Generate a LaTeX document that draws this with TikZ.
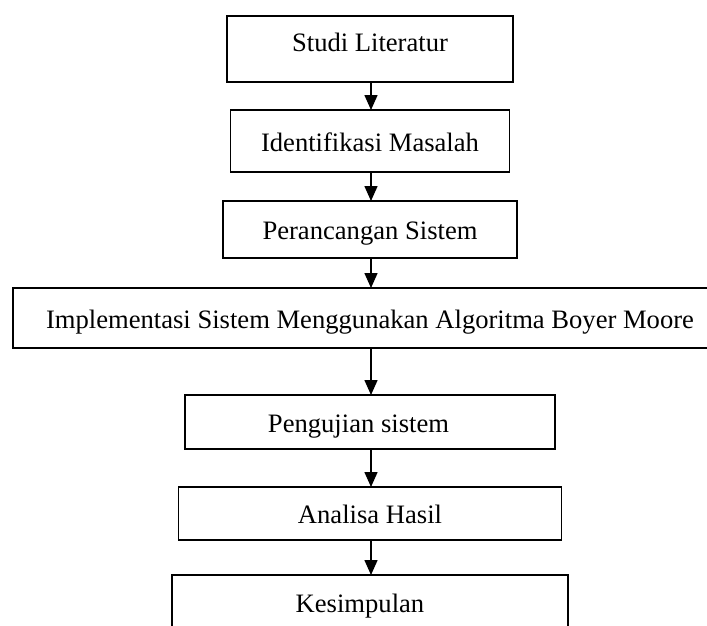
\documentclass[tikz,border=0pt]{standalone}
\usepackage{fontspec}
\setmainfont{Liberation Serif}
\usetikzlibrary{positioning, arrows.meta}
\tikzset{
  stepbox/.style={
    draw=black, line width=1.9pt, inner sep=0pt, outer sep=0pt,
    text height=20.6pt, text depth=0pt,
    font=\fontsize{26.6pt}{30pt}\selectfont
  },
  arrow/.style={-{Triangle[length=15pt, width=13pt]}, line width=1.5pt, black}
}

\begin{document}
\begin{tikzpicture}[x=1pt, y=-1pt]
  \useasboundingbox (0,0) rectangle (707,625);
  \node[stepbox, minimum width=286pt, minimum height=66pt, text depth=16pt] (lit) at (370,49) {Studi Literatur};
  \node[stepbox, minimum width=279pt, minimum height=62pt, below=28pt of lit] (idm) {Identifikasi Masalah};
  \node[stepbox, minimum width=294pt, minimum height=57pt, below=29pt of idm] (rcg) {Perancangan Sistem};
  \node[stepbox, minimum width=714pt, minimum height=60pt, below=30pt of rcg] (imp) {Implementasi Sistem Menggunakan Algoritma Boyer Moore};
  \node[stepbox, minimum width=370pt, minimum height=54pt, below=47pt of imp] (uji) {Pengujian sistem\hspace*{23pt}};
  \node[stepbox, minimum width=383pt, minimum height=53pt, below=38pt of uji] (ana) {Analisa Hasil};
  \node[stepbox, minimum width=396pt, minimum height=54pt, below=35pt of ana] (kes) {Kesimpulan\hspace*{20pt}};

  % arrows run down one vertical line
  \coordinate (axis) at (371,0);
  \foreach \a/\b in {lit/idm, idm/rcg, rcg/imp, imp/uji, uji/ana, ana/kes}
    \draw[arrow] (\a.south -| axis) -- (\b.north -| axis);
\end{tikzpicture}
\end{document}
